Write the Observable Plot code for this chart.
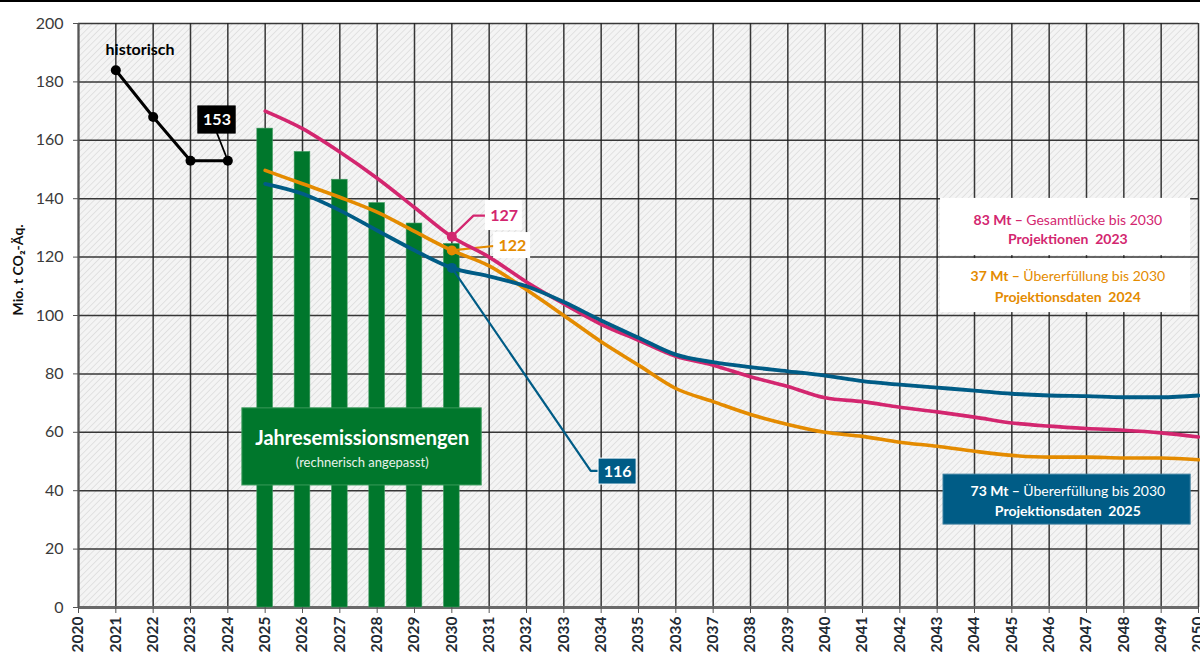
<!DOCTYPE html>
<html><head><meta charset="utf-8">
<script src="https://cdn.jsdelivr.net/npm/d3@7"></script>
<script src="https://cdn.jsdelivr.net/npm/@observablehq/plot@0.6"></script>
<style>
html,body{margin:0;padding:0;background:#fff;}
#wrap{position:relative;width:1200px;height:668px;}
#topline{position:absolute;left:0;top:0;width:1200px;height:2px;background:#000;}
</style></head><body>
<div id="wrap"><div id="chart"></div><div id="topline"></div></div>
<script>
// ---- data ----
const xTicks = [2020,2021,2022,2023,2024,2025,2026,2027,2028,2029,2030,2031,2032,2033,2034,2035,2036,2037,2038,2039,2040,2041,2042,2043,2044,2045,2046,2047,2048,2049,2050];
const yTicks = [0,20,40,60,80,100,120,140,160,180,200];

const histYears = [2021,2022,2023,2024];
const histValues = [184,168,153,153];

const barYears = [2025,2026,2027,2028,2029,2030];
const barValues = [164,156,146.5,138.5,131.5,124.5];

const projYears = [2025,2026,2027,2028,2029,2030,2031,2032,2033,2034,2035,2036,2037,2038,2039,2040,2041,2042,2043,2044,2045,2046,2047,2048,2049,2050];
const proj2023 = [170,164,156,147,137,127,120,111.5,104,97,91.5,86,83,79,75.7,71.8,70.5,68.6,67,65.2,63.2,62.1,61.3,60.7,59.8,58.4];
const proj2024 = [149.7,145.1,140.5,135.4,128.8,122.3,117,108.8,100,91,83,75,70.5,66.1,62.7,60,58.6,56.6,55.2,53.5,52.1,51.5,51.5,51.2,51.2,50.6];
const proj2025 = [145.1,141.7,136,129.1,122.3,116.3,113.4,110,104.6,98.3,92.4,86.6,84,82.3,80.9,79.4,77.5,76.3,75.3,74.3,73.2,72.6,72.4,72,72,72.6];

// colours
const cPink = "#d3266f", cOrange = "#e48b00", cBlue = "#005c86", cGreen = "#00772c";

// annotations (data coordinates)
const leaderPink   = [[2030,127],[2030.58,134.2],[2030.9,134.2]];
const leaderOrange = [[2030,122.3],[2031.12,123.8]];
const leaderBlue   = [[2030,116.3],[2033.72,46.8],[2033.93,46.8]];
const leader153    = [[2023.71,162.4],[2024,153]];
const calloutBoxes = [
  {x1:2023.21,x2:2024.21,y1:162.3,y2:171.6,fill:"#000",stroke:"#000"},
  {x1:2030.90,x2:2031.89,y1:129.1,y2:139.4,fill:"#fff",stroke:"none"},
  {x1:2031.12,x2:2032.11,y1:119.5,y2:128.4,fill:"#fff",stroke:"none"},
  {x1:2033.93,x2:2034.95,y1:42.1,y2:51.0,fill:cBlue,stroke:"#fff"}
];
const calloutTexts = [
  {x:2023.71,y:166.9,text:"153",fill:"#fff"},
  {x:2031.40,y:134.2,text:"127",fill:cPink},
  {x:2031.62,y:123.9,text:"122",fill:cOrange},
  {x:2034.44,y:46.5,text:"116",fill:"#fff"}
];
const legendBoxes = [
  {x1:2043.09,x2:2049.79,y1:120.5,y2:140.1,fill:"#fff",stroke:"none"},
  {x1:2043.09,x2:2049.79,y1:101.0,y2:119.5,fill:"#fff",stroke:"none"},
  {x1:2043.17,x2:2049.79,y1:28.4,y2:45.5,fill:cBlue,stroke:"#3c7fa0"},
  {x1:2024.39,x2:2030.80,y1:41.8,y2:68.2,fill:cGreen,stroke:"#3a9a5a"}
];
const legendTexts = [
  {x:2046.5,y:132.7,text:"83 Mt – Gesamtlücke bis 2030",fill:cPink,size:14,bold:false},
  {x:2046.5,y:125.9,text:"Projektionen  2023",fill:cPink,size:14,bold:true},
  {x:2046.5,y:113.3,text:"37 Mt – Übererfüllung bis 2030",fill:cOrange,size:14,bold:false},
  {x:2046.5,y:106.1,text:"Projektionsdaten  2024",fill:cOrange,size:14,bold:true},
  {x:2046.5,y:39.7,text:"73 Mt – Übererfüllung bis 2030",fill:"#fff",size:14,bold:false},
  {x:2046.5,y:32.9,text:"Projektionsdaten  2025",fill:"#fff",size:14,bold:true},
  {x:2027.6,y:57.8,text:"Jahresemissionsmengen",fill:"#fff",size:20,bold:true},
  {x:2027.6,y:49.7,text:"(rechnerisch angepasst)",fill:"#e8f2ea",size:13,bold:false},
  {x:2021.65,y:191.1,text:"historisch",fill:"#000",size:16,bold:true}
];
const yLabel = "Mio. t CO₂-Äq.";

// ---- tables ----
const hist = histYears.map((year,i)=>({year, value:histValues[i]}));
const bars = barYears.map((year,i)=>({year, value:barValues[i]}));
const proj = projYears.map((year,i)=>({year, p23:proj2023[i], p24:proj2024[i], p25:proj2025[i]}));
const p2030 = proj.filter(d=>d.year===2030);

const chart = Plot.plot({
  width: 1200, height: 668,
  marginLeft: 78, marginRight: 2, marginTop: 23, marginBottom: 61,
  x: {domain:[2020,2050]},
  y: {domain:[0,200]},
  style: {fontFamily:"Lato, 'Open Sans', sans-serif", fontSize:"15px", background:"#fff", overflow:"visible"},
  marks: [
    Plot.frame({fill:"url(#hatch)", stroke:"none"}),
    Plot.gridX(xTicks, {stroke:"#222", strokeOpacity:0.9, strokeWidth:1.5}),
    Plot.gridY(yTicks, {stroke:"#222", strokeOpacity:0.9, strokeWidth:1.5}),
    Plot.ruleY([0], {stroke:"#6a6a6a", strokeWidth:3}),
    Plot.ruleX([2020], {stroke:"#555", strokeWidth:2}),
    Plot.rectY(bars, {x1:d=>d.year-0.21, x2:d=>d.year+0.21, y:"value", fill:cGreen, stroke:"#3f9a5f", strokeWidth:0.6}),
    // green label box
    Plot.rect([legendBoxes[3]], {x1:"x1",x2:"x2",y1:"y1",y2:"y2",fill:"fill",stroke:"stroke",strokeWidth:1}),
    // leaders
    Plot.line(leaderBlue, {stroke:cBlue, strokeWidth:2.2}),
    Plot.line(leaderPink, {stroke:cPink, strokeWidth:2.2}),
    Plot.line(leaderOrange, {stroke:cOrange, strokeWidth:2.2}),
    Plot.line(leader153, {stroke:"#000", strokeWidth:1.8}),
    // projections
    Plot.line(proj, {x:"year", y:"p23", stroke:cPink, strokeWidth:3.6, curve:"monotone-x"}),
    Plot.line(proj, {x:"year", y:"p24", stroke:cOrange, strokeWidth:3.6, curve:"monotone-x"}),
    Plot.line(proj, {x:"year", y:"p25", stroke:cBlue, strokeWidth:3.8, curve:"monotone-x"}),
    Plot.dot(p2030, {x:"year", y:"p23", r:5, fill:cPink}),
    Plot.dot(p2030, {x:"year", y:"p24", r:5, fill:cOrange}),
    Plot.dot(p2030, {x:"year", y:"p25", r:5, fill:cBlue}),
    // historic
    Plot.line(hist, {x:"year", y:"value", stroke:"#000", strokeWidth:3}),
    Plot.dot(hist, {x:"year", y:"value", r:5, fill:"#000"}),
    // callouts
    Plot.rect(calloutBoxes, {x1:"x1",x2:"x2",y1:"y1",y2:"y2",fill:"fill",stroke:"stroke",strokeWidth:1}),
    Plot.text(calloutTexts, {x:"x", y:"y", text:"text", fill:"fill", fontSize:16, fontWeight:700}),
    // legend boxes
    Plot.rect(legendBoxes.slice(0,3), {x1:"x1",x2:"x2",y1:"y1",y2:"y2",fill:"fill",stroke:"stroke",strokeWidth:1}),
    Plot.text(legendTexts.filter(d=>d.bold), {x:"x", y:"y", text:"text", fill:"fill", fontSize:d=>d.size, fontWeight:700}),
    Plot.text(legendTexts.filter(d=>!d.bold), {x:"x", y:"y", text:"text", fill:"fill", fontSize:d=>d.size, fontWeight:400}),
    // axes
    Plot.axisY({ticks:yTicks, tickSize:5, tickPadding:10, fontSize:16, fill:"#3a3a3a", stroke:"#555"}),
    Plot.axisX({ticks:xTicks, tickFormat:d=>String(d), tickRotate:-90, tickSize:6, tickPadding:3, fontSize:15.5, fontWeight:700, fill:"#1f2a33", stroke:"#555"}),
    Plot.text([yLabel], {frameAnchor:"left", dx:-60, rotate:-90, text:d=>d, fontSize:14, fontWeight:700, fill:"#111"})
  ]
});

// hatch pattern
d3.select(chart).insert("defs", ":first-child").html(
  '<pattern id="hatch" width="4.5" height="4.5" patternUnits="userSpaceOnUse" patternTransform="rotate(45)">' +
  '<rect width="4.5" height="4.5" fill="#f4f4f4"></rect>' +
  '<line x1="0" y1="0" x2="0" y2="4.5" stroke="#d9d9d9" stroke-width="1.4"></line></pattern>');

// mixed bold/regular legend lines
d3.select(chart).selectAll("text").each(function(){
  const t = this.textContent;
  const m = /^(\d+ Mt – )(.*)$/.exec(t);
  if (m && this.childElementCount === 0) {
    const sel = d3.select(this);
    sel.text(null);
    sel.append("tspan").attr("font-weight", 700).text(m[1]);
    sel.append("tspan").attr("font-weight", 400).text(m[2]);
  }
});

document.getElementById("chart").appendChild(chart);
</script>
</body></html>
